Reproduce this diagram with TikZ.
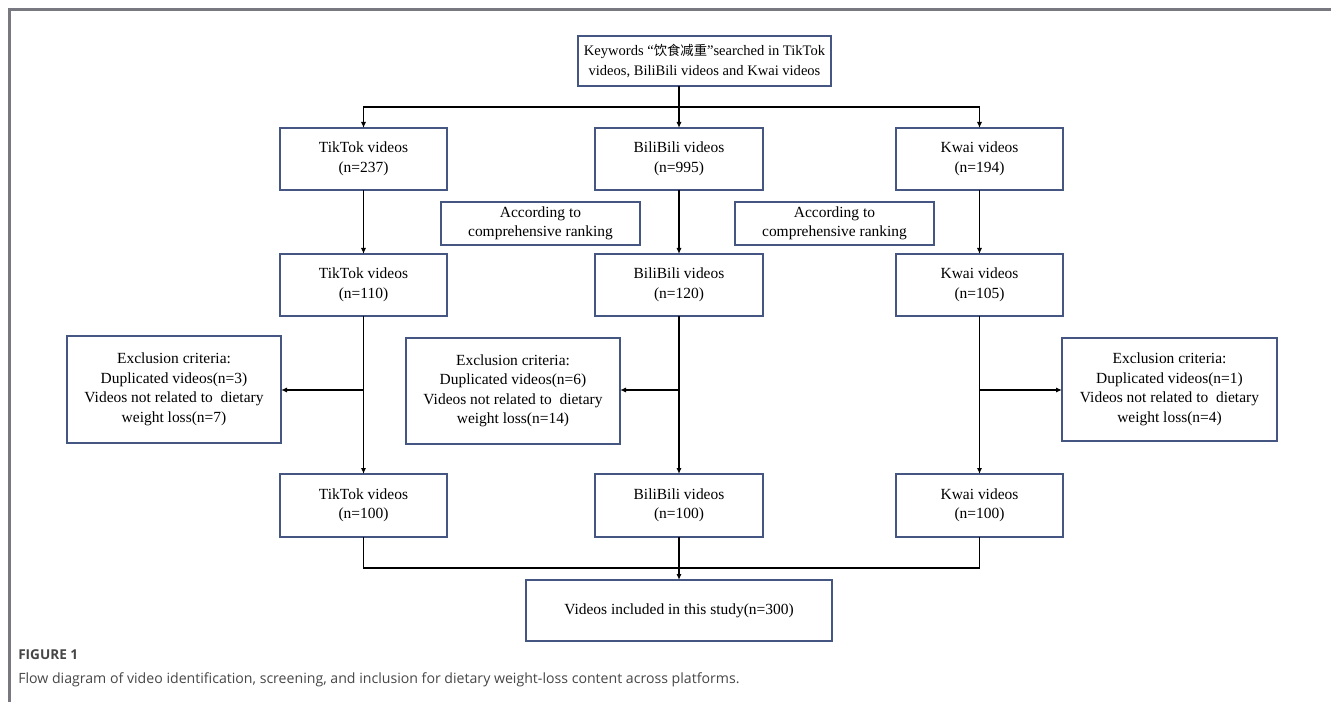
\documentclass[tikz,border=0pt]{standalone}
\usepackage{fontspec}
\setmainfont{Liberation Serif}
\newfontfamily\cjk{Noto Sans CJK SC}
\newfontfamily\capfont{Open Sans}
\usetikzlibrary{arrows.meta}
\definecolor{boxc}{RGB}{70,86,130}
\definecolor{framec}{RGB}{120,120,128}
\definecolor{capc}{RGB}{70,70,70}
\tikzset{
  box/.style={draw=boxc, line width=0.9pt, inner sep=0pt, outer sep=0pt, align=center, fill=white,
    font=\fontsize{11.6}{14.6}\selectfont},
  conn/.style={draw=black, line width=1.25pt},
  arr/.style={conn, -{Latex[length=4.5pt,width=3.8pt]}},
}
\newcommand\mybox[6]{\node[box, minimum width={(#4-#2)*0.75pt}, minimum height={(#5-#3)*0.75pt}] (#1) at ({(#2+#4)/2},{(#3+#5)/2}) {#6};}
\begin{document}
\begin{tikzpicture}[x=0.75pt,y=-0.75pt]
\useasboundingbox (0,0) rectangle (1331,702);
% frame
\draw[framec, line width=1.7pt] (9.5,702) -- (9.5,9.5) -- (1331,9.5);
% boxes
\mybox{top}{578}{36}{831}{86}{\fontsize{10.9}{14.6}\selectfont Keywords ``{\cjk\fontsize{10}{14.6}\selectfont 饮食减重}''searched in TikTok\\\fontsize{10.9}{14.6}\selectfont videos, BiliBili videos and Kwai videos}
\mybox{tik1}{280}{128}{447}{190}{TikTok videos\\(n=237)}
\mybox{bili1}{595}{128}{763}{190}{BiliBili videos\\(n=995)}
\mybox{kwai1}{896}{128}{1063}{190}{Kwai videos\\(n=194)}
\mybox{acc1}{441}{202}{640}{245}{According to\\comprehensive ranking}
\mybox{acc2}{735}{202}{934}{245}{According to\\comprehensive ranking}
\mybox{tik2}{280}{254}{447}{316}{TikTok videos\\(n=110)}
\mybox{bili2}{595}{254}{763}{316}{BiliBili videos\\(n=120)}
\mybox{kwai2}{896}{254}{1063}{316}{Kwai videos\\(n=105)}
\mybox{ex1}{67}{336}{281}{443}{Exclusion criteria:\\Duplicated videos(n=3)\\Videos not related to\ \ dietary\\weight loss(n=7)}
\mybox{ex2}{406}{338}{620}{444}{Exclusion criteria:\\Duplicated videos(n=6)\\Videos not related to\ \ dietary\\weight loss(n=14)}
\mybox{ex3}{1062}{338}{1277}{441}{Exclusion criteria:\\Duplicated videos(n=1)\\Videos not related to\ \ dietary\\weight loss(n=4)}
\mybox{tik3}{280}{474}{447}{537}{TikTok videos\\(n=100)}
\mybox{bili3}{595}{474}{763}{537}{BiliBili videos\\(n=100)}
\mybox{kwai3}{896}{474}{1063}{537}{Kwai videos\\(n=100)}
\mybox{final}{526}{580}{832}{641}{Videos included in this study(n=300)}
% connectors
\coordinate (d) at (679,107);
\draw[conn] (top.south -| bili1.north) -- (d);
\draw[arr] (d) -| (tik1.north);
\draw[arr] (d) -| (kwai1.north);
\draw[arr] (d) -- (bili1.north);
\draw[arr] (tik1) -- (tik2);
\draw[arr] (bili1) -- (bili2);
\draw[arr] (kwai1) -- (kwai2);
\draw[arr] (tik2) -- (tik3);
\draw[arr] (bili2) -- (bili3);
\draw[arr] (kwai2) -- (kwai3);
\coordinate (b1) at (363.5,390);
\coordinate (b2) at (679,390);
\coordinate (b3) at (979.5,390);
\draw[arr] (b1) -- (b1 -| ex1.east);
\draw[arr] (b2) -- (b2 -| ex2.east);
\draw[arr] (b3) -- (b3 -| ex3.west);
\coordinate (m) at (679,568);
\draw[conn] (tik3.south) |- (m) -| (kwai3.south);
\draw[arr] (bili3.south) -- (final.north);
% caption
\node[anchor=west, inner sep=0pt, font=\capfont\bfseries\fontsize{10.2}{11}\selectfont, text=capc] (figlab) at (18,655) {FIGURE 1};
\node[anchor=west, inner sep=0pt, font=\capfont\fontsize{10.6}{12}\selectfont, text=capc] (figcap) at (18,680) {Flow diagram of video identification, screening, and inclusion for dietary weight-loss content across platforms.};
\end{tikzpicture}
\end{document}
